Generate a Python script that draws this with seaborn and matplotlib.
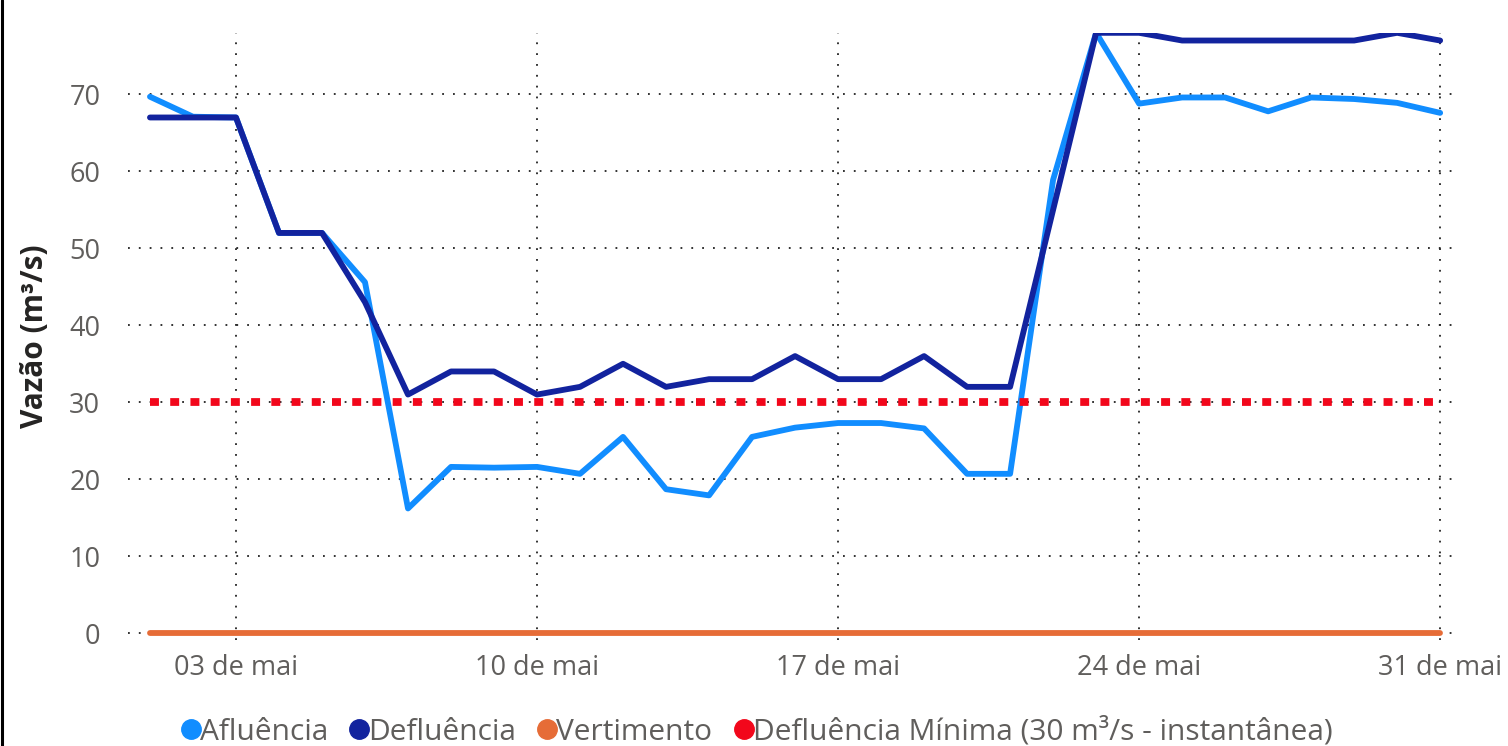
import pandas as pd
import matplotlib.pyplot as plt
from matplotlib.lines import Line2D
import seaborn as sns

# dias de maio
dias = list(range(1, 32))

afluencia = [69.7, 67.1, 67.0, 52.0, 52.0, 45.6, 16.2, 21.6, 21.5, 21.6,
             20.7, 25.5, 18.7, 17.9, 25.5, 26.7, 27.3, 27.3, 26.6, 20.7,
             20.7, 58.9, 78.0, 68.8, 69.6, 69.6, 67.8, 69.6, 69.4, 68.9,
             67.6]
defluencia = [67, 67, 67, 52, 52, 43, 31, 34, 34, 31,
              32, 35, 32, 33, 33, 36, 33, 33, 36, 32,
              32, 55, 78, 78, 77, 77, 77, 77, 77, 78,
              77]
vertimento = [0] * 31
defl_minima = [30] * 31

tick_dias = [3, 10, 17, 24, 31]
tick_labels = ['03 de mai', '10 de mai', '17 de mai', '24 de mai', '31 de mai']

nomes = ['Afluência', 'Defluência', 'Vertimento',
         'Defluência Mínima (30 m³/s - instantânea)']
cores = ['#118DFF', '#12239E', '#E66C37', '#F2071B']

df = pd.DataFrame({
    'dia': dias,
    nomes[0]: afluencia,
    nomes[1]: defluencia,
    nomes[2]: vertimento,
    nomes[3]: defl_minima,
})

# %%

sns.set_style('white')
plt.rcParams['font.family'] = ['Open Sans', 'DejaVu Sans']

fig = plt.figure(figsize=(15.08, 7.46), dpi=100)
ax = fig.add_axes([0.0849, 0.142, 0.963 - 0.0849, 0.956 - 0.142])

sns.lineplot(data=df, x='dia', y=nomes[0], color=cores[0], lw=4.2, ax=ax, zorder=3)
sns.lineplot(data=df, x='dia', y=nomes[1], color=cores[1], lw=4.2, ax=ax, zorder=4)
sns.lineplot(data=df, x='dia', y=nomes[2], color=cores[2], lw=4.2, ax=ax, zorder=5)
# linha pontilhada da defluencia minima
ax.plot(df['dia'], df[nomes[3]], color=cores[3], lw=5.6, zorder=6,
        linestyle=(0, (1.15, 1.45)), dash_capstyle='butt')

ax.set_xlim(0.49, 31.28)
ax.set_ylim(-0.9, 78)
ax.set_yticks(range(0, 80, 10))
ax.set_xticks(tick_dias)
ax.set_xticklabels(tick_labels)

ax.grid(True, color='#222222', linestyle=(0, (1, 5)), linewidth=1.3)
ax.set_axisbelow(True)
for s in ax.spines.values():
    s.set_visible(False)

ax.tick_params(axis='both', length=0, labelsize=19.5, colors='#605E5C')
ax.tick_params(axis='y', pad=20)
ax.tick_params(axis='x', pad=10)

ax.set_xlabel('')
ax.set_ylabel('Vazão (m³/s)', fontsize=21.5, fontweight='bold', color='#252423',
              labelpad=14)

handles = [Line2D([], [], marker='o', linestyle='none', markersize=14,
                  markerfacecolor=c, markeredgecolor=c) for c in cores]
fig.legend(handles, nomes, loc='center', bbox_to_anchor=(0.5, 0.019), ncol=4,
           frameon=False, fontsize=21.5, labelcolor='#605E5C',
           handletextpad=-0.2, columnspacing=0.55, handlelength=1.0,
           borderpad=0, borderaxespad=0)

fig.add_artist(Line2D([0.0015, 0.0015], [0, 1], color='black', lw=2.2,
                      transform=fig.transFigure))

plt.savefig('out.png', dpi=100)
